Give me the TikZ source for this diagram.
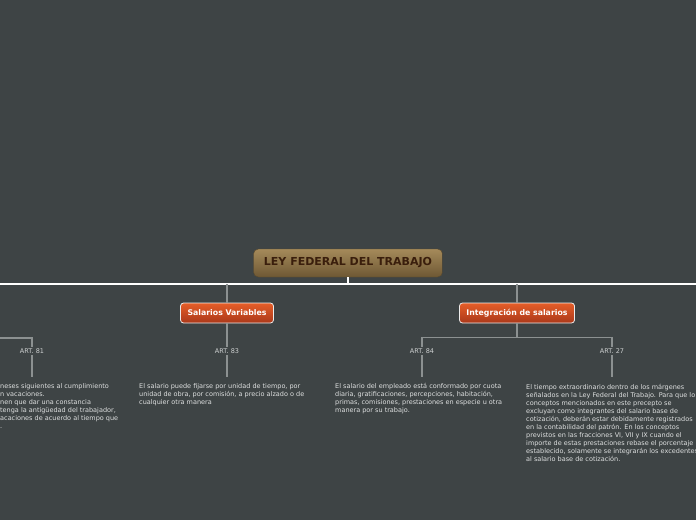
\documentclass[tikz,border=0pt]{standalone}
\usepackage{fontspec}
\setmainfont{DejaVu Sans}
\usepackage{xcolor}
\usetikzlibrary{positioning, calc}
\definecolor{bgslate}{RGB}{62,68,69}
\definecolor{roottop}{RGB}{165,138,90}
\definecolor{rootbot}{RGB}{110,88,52}
\definecolor{rootink}{RGB}{58,30,12}
\definecolor{topictop}{RGB}{230,94,40}
\definecolor{topicbot}{RGB}{170,56,26}
\definecolor{conngray}{RGB}{140,145,145}
\definecolor{lblgray}{RGB}{205,208,208}
\definecolor{notegray}{RGB}{222,224,224}

\begin{document}
\begin{tikzpicture}[
  x=1pt, y=-1pt,
  every node/.style={font=\fontsize{6.5}{8}\selectfont},
  root/.style={rounded corners=5pt, top color=roottop, bottom color=rootbot,
               draw=rootbot!85!black, line width=0.4pt,
               minimum width=189pt, minimum height=28pt, text=rootink,
               font=\fontsize{11}{12}\selectfont\bfseries},
  topic/.style={rounded corners=3pt, top color=topictop, bottom color=topicbot,
                draw=white!85!gray, line width=0.8pt, inner xsep=7pt,
                minimum height=20pt, text=white,
                font=\fontsize{7.8}{9}\selectfont\bfseries},
  artlbl/.style={text=lblgray, inner sep=1.5pt},
  note/.style={text=notegray, anchor=north west, align=left, inner sep=0pt},
  conn/.style={draw=conngray, line width=1.3pt},
  trunk/.style={draw=white, line width=2pt},
]

%% ── CANVAS ────────────────────────────────────────────────────────────
\useasboundingbox (0,0) rectangle (696,520);
\clip (0,0) rectangle (696,520);
\fill[bgslate] (0,0) rectangle (696,520);

%% ── ROOT ──────────────────────────────────────────────────────────────
\node[root] (ley) at (348,263) {LEY FEDERAL DEL TRABAJO};

\coordinate (busL) at (-10,284);
\coordinate (busM) at (348,284);
\coordinate (busR) at (706,284);

%% ── MAIN TOPICS ───────────────────────────────────────────────────────
\node[topic] (salvar) at (227,313) {Salarios Variables};
\node[topic] (integ)  at (517,313) {Integración de salarios};

%% ── ARTICLES ──────────────────────────────────────────────────────────
\node[artlbl] (art81) at ( 32,351) {ART. 81};
\node[artlbl] (art83) at (227,351) {ART. 83};
\node[artlbl] (art84) at (422,351) {ART. 84};
\node[artlbl] (art27) at (612,351) {ART. 27};

\coordinate (j81) at (-10,338);

%% ── NOTES ─────────────────────────────────────────────────────────────
\node[note] (txt81) at (0,383)
  {neses siguientes al cumplimiento\\
   n vacaciones.\\
   nen que dar una constancia\\
   tenga la antigüedad del trabajador,\\
   acaciones de acuerdo al tiempo que\\
   .};

\node[note] (txt83) at (139,383)
  {El salario puede fijarse por unidad de tiempo, por\\
   unidad de obra, por comisión, a precio alzado o de\\
   cualquier otra manera};

\node[note] (txt84) at (335,383)
  {El salario del empleado está conformado por cuota\\
   diaria, gratificaciones, percepciones, habitación,\\
   primas, comisiones, prestaciones en especie u otra\\
   manera por su trabajo.};

\node[note] (txt27) at (526,384)
  {El tiempo extraordinario dentro de los márgenes\\
   señalados en la Ley Federal del Trabajo. Para que lo\\
   conceptos mencionados en este precepto se\\
   excluyan como integrantes del salario base de\\
   cotización, deberán estar debidamente registrados\\
   en la contabilidad del patrón. En los conceptos\\
   previstos en las fracciones VI, VII y IX cuando el\\
   importe de estas prestaciones rebase el porcentaje\\
   establecido, solamente se integrarán los excedentes\\
   al salario base de cotización.};

%% ═════════════════════════════════════════════════════════════════════
%% CONNECTORS
%% ═════════════════════════════════════════════════════════════════════

%% root → trunk
\draw[trunk] (busL) -- (busR);
\draw[trunk] (ley.south) -- (busM);

%% trunk → topics
\draw[conn] (busM -| salvar.north) -- (salvar.north);
\draw[conn] (busM -| integ.north) -- (integ.north);

%% topics → articles
\draw[conn] (j81) -| (art81.north);
\draw[conn] (salvar.south) -- (art83.north);
\draw[conn] (integ.south) -- ++(0,14) -| (art84.north);
\draw[conn] (integ.south) -- ++(0,14) -| (art27.north);

%% articles → notes
\draw[conn] (art81.south) -- ($(art81.south |- txt81.north)+(0,-6)$);
\draw[conn] (art83.south) -- ($(art83.south |- txt83.north)+(0,-6)$);
\draw[conn] (art84.south) -- ($(art84.south |- txt84.north)+(0,-6)$);
\draw[conn] (art27.south) -- ($(art27.south |- txt27.north)+(0,-7)$);

\end{tikzpicture}
\end{document}
